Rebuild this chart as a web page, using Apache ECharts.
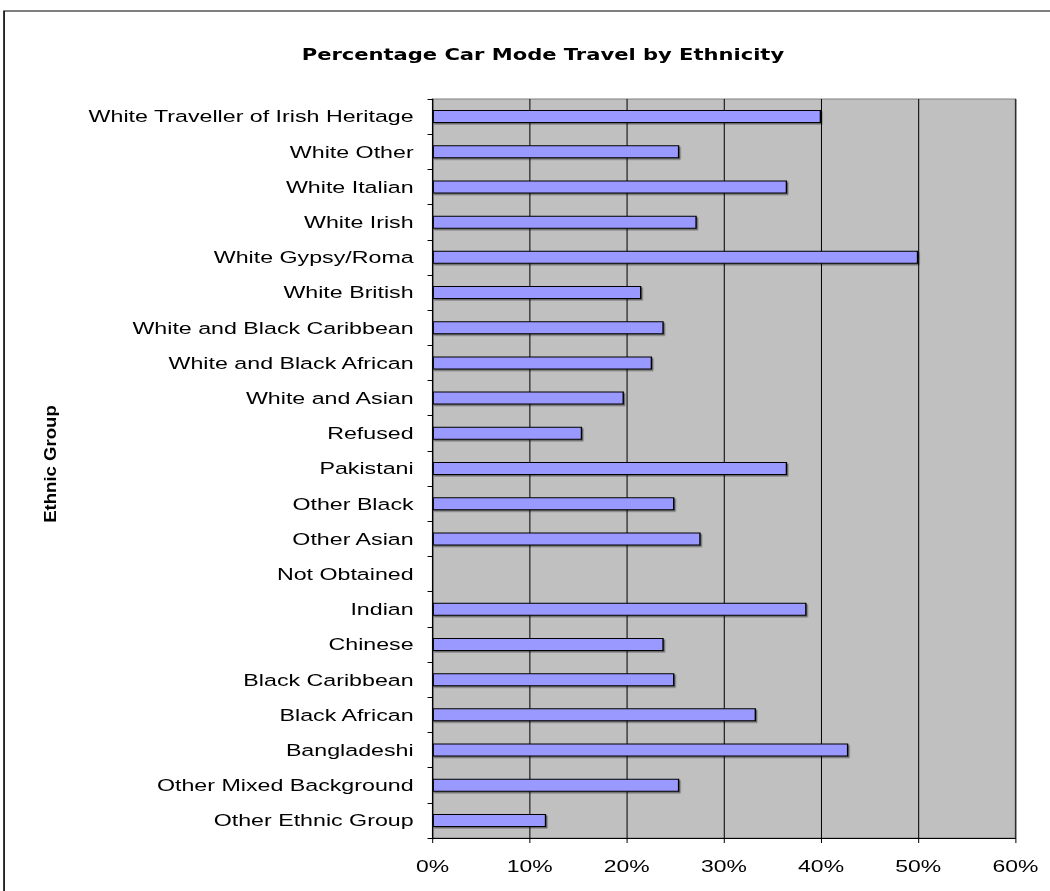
<!DOCTYPE html>
<html>
<head>
<meta charset="utf-8">
<title>Percentage Car Mode Travel by Ethnicity</title>
<script src="https://cdn.jsdelivr.net/npm/echarts@6/dist/echarts.min.js"></script>
<style>
  html, body { margin: 0; padding: 0; background: #fff; overflow: hidden; }
  /* The chart is laid out narrow and widened, giving the broad Excel-style lettering */
  #chart { width: 778px; height: 891px; transform: scaleX(1.35); transform-origin: 0 0; }
</style>
</head>
<body>
<div id="chart"></div>
<script>
// Ethnic groups, listed top to bottom
const groups = [
  'White Traveller of Irish Heritage',
  'White Other',
  'White Italian',
  'White Irish',
  'White Gypsy/Roma',
  'White British',
  'White and Black Caribbean',
  'White and Black African',
  'White and Asian',
  'Refused',
  'Pakistani',
  'Other Black',
  'Other Asian',
  'Not Obtained',
  'Indian',
  'Chinese',
  'Black Caribbean',
  'Black African',
  'Bangladeshi',
  'Other Mixed Background',
  'Other Ethnic Group'
];

// Share of trips made by car (%), same order as groups
const carShare = [
  40.0, 25.4, 36.5, 27.2, 50.0, 21.5, 23.8, 22.6, 19.7, 15.4,
  36.5, 24.9, 27.6, 0, 38.5, 23.8, 24.9, 33.3, 42.8, 25.4, 11.7
];

// Value axis ticks
const pctMin = 0;
const pctMax = 60;
const pctStep = 10;

const chartTitle = 'Percentage Car Mode Travel by Ethnicity';
const groupAxisName = 'Ethnic Group';

const labelFont = '"Liberation Sans", Arial, sans-serif';
const titleFont = '"DejaVu Sans", "Liberation Sans", Arial, sans-serif';

const chart = echarts.init(document.getElementById('chart'), null, { renderer: 'svg' });

chart.setOption({
  backgroundColor: '#ffffff',
  animation: false,
  title: {
    text: chartTitle,
    left: 218.5,
    top: 42,
    textStyle: {
      fontFamily: titleFont,
      fontSize: 15.6,
      fontWeight: 'bold',
      color: '#000'
    }
  },
  graphic: [
    {
      type: 'rect',
      silent: true,
      shape: { x: 3, y: 11, width: 900, height: 1000 },
      style: { fill: 'none', stroke: '#000', lineWidth: 1.2 }
    },
    {
      type: 'text',
      silent: true,
      x: 37,
      y: 464,
      rotation: Math.PI / 2,
      scaleX: 1.43,
      scaleY: 0.95,
      style: {
        text: groupAxisName,
        fontFamily: labelFont,
        fontSize: 13,
        fontWeight: 'bold',
        fill: '#000',
        align: 'center',
        verticalAlign: 'middle'
      }
    }
  ],
  grid: {
    left: 320.4,
    right: 25.9,
    top: 99,
    bottom: 53,
    show: true,
    backgroundColor: '#C0C0C0',
    borderColor: '#808080',
    borderWidth: 1
  },
  xAxis: {
    type: 'value',
    min: pctMin,
    max: pctMax,
    interval: pctStep,
    axisLine: { show: true, lineStyle: { color: '#000', width: 1 } },
    axisTick: { show: true, length: 5, lineStyle: { color: '#000', width: 0.75 } },
    splitLine: { show: true, lineStyle: { color: '#000', width: 0.75 } },
    axisLabel: {
      formatter: '{value}%',
      margin: 20,
      fontFamily: labelFont,
      fontSize: 17,
      color: '#000'
    }
  },
  yAxis: {
    type: 'category',
    data: groups,
    inverse: true,
    axisLine: { show: true, lineStyle: { color: '#000', width: 0.85 } },
    axisTick: { show: true, length: 3.7, lineStyle: { color: '#000', width: 1 } },
    splitLine: { show: false },
    axisLabel: {
      margin: 14,
      fontFamily: labelFont,
      fontSize: 17.2,
      color: '#000'
    }
  },
  series: [
    {
      type: 'bar',
      data: carShare,
      barWidth: 13,
      itemStyle: {
        color: '#9999FF',
        borderColor: '#000',
        borderWidth: 1,
        shadowColor: 'rgba(0,0,0,0.45)',
        shadowOffsetX: 1,
        shadowOffsetY: 1.5,
        shadowBlur: 0
      }
    }
  ]
});
</script>
</body>
</html>
